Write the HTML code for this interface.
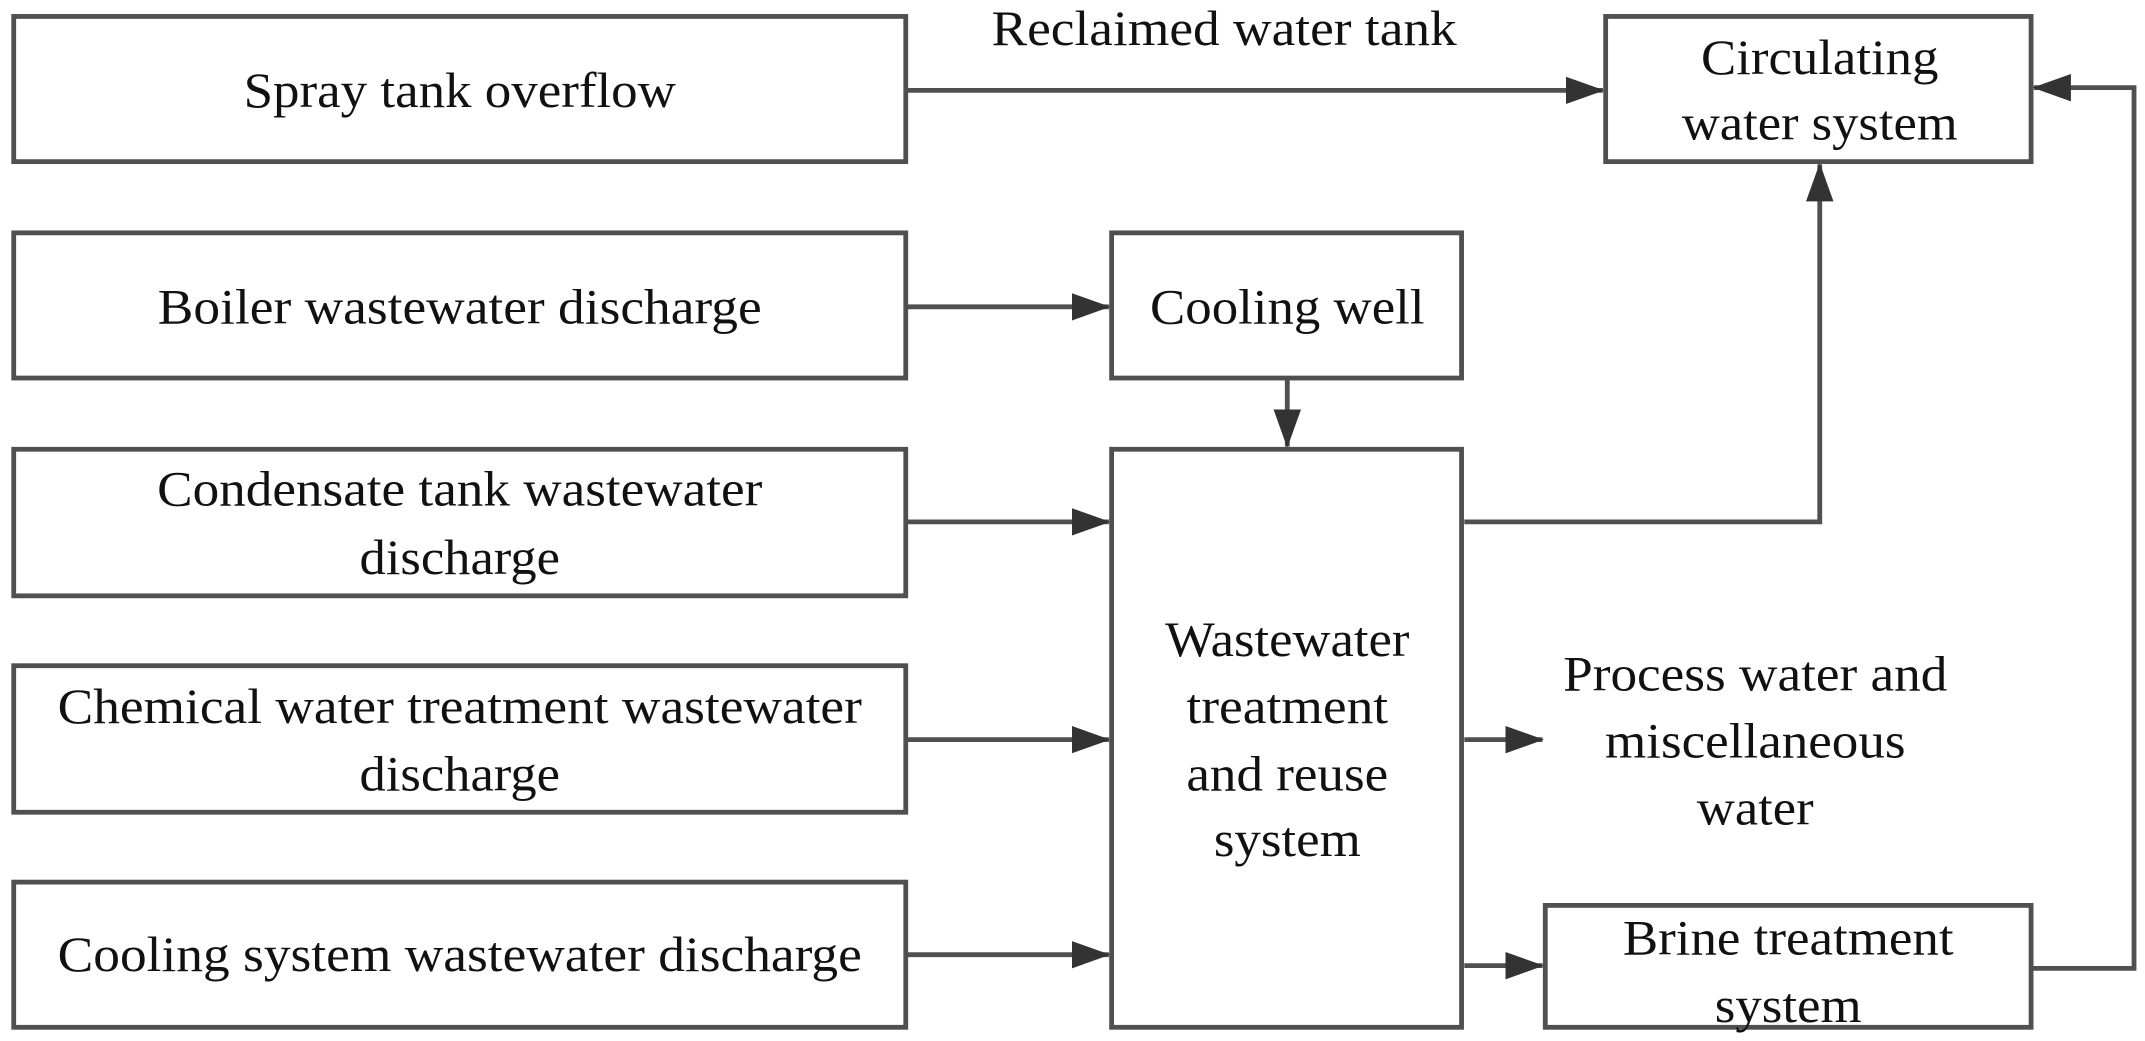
<!DOCTYPE html>
<html><head><meta charset="utf-8"><style>
html,body{margin:0;padding:0;background:#fff;}
svg{display:block;}
text{font-family:"Liberation Serif",serif;font-size:36px;fill:#111;text-anchor:middle;}
</style></head><body>
<svg width="2145" height="1041" viewBox="0 0 1563 760" preserveAspectRatio="none" xmlns="http://www.w3.org/2000/svg">
<defs>
<marker id="b" markerWidth="28" markerHeight="22" refX="27" refY="11" orient="auto" markerUnits="userSpaceOnUse" viewBox="0 0 28 22"><path d="M0,1 L28,11 L0,21 z" fill="#333"/></marker></defs>
<g fill="none" stroke="#505050" stroke-width="3.5">
<rect x="10" y="12" width="650" height="106"/>
<rect x="1170" y="12" width="310" height="106"/>
<rect x="10" y="170" width="650" height="106"/>
<rect x="810" y="170" width="255" height="106"/>
<rect x="10" y="328" width="650" height="107"/>
<rect x="810" y="328" width="255" height="422"/>
<rect x="10" y="486" width="650" height="107"/>
<rect x="10" y="644" width="650" height="106"/>
<rect x="1126" y="661" width="354" height="89"/>
<line x1="660" y1="66" x2="1168" y2="66" marker-end="url(#b)"/>
<line x1="660" y1="224" x2="808" y2="224" marker-end="url(#b)"/>
<line x1="660" y1="381" x2="808" y2="381" marker-end="url(#b)"/>
<line x1="660" y1="540" x2="808" y2="540" marker-end="url(#b)"/>
<line x1="660" y1="697" x2="808" y2="697" marker-end="url(#b)"/>
<line x1="938" y1="276" x2="938" y2="326" marker-end="url(#b)"/>
<polyline points="1067,381 1326,381 1326,120" marker-end="url(#b)"/>
<line x1="1067" y1="540" x2="1124" y2="540" marker-end="url(#b)"/>
<line x1="1067" y1="705" x2="1124" y2="705" marker-end="url(#b)"/>
<polyline points="1480,707 1555,707 1555,64 1482,64" marker-end="url(#b)"/>
</g>
<text x="335" y="78" textLength="315" lengthAdjust="spacingAndGlyphs">Spray tank overflow</text>
<text x="892" y="33" textLength="339" lengthAdjust="spacingAndGlyphs">Reclaimed water tank</text>
<text x="1326" y="54" textLength="173" lengthAdjust="spacingAndGlyphs">Circulating</text>
<text x="1326" y="102" textLength="201" lengthAdjust="spacingAndGlyphs">water system</text>
<text x="335" y="236" textLength="440" lengthAdjust="spacingAndGlyphs">Boiler wastewater discharge</text>
<text x="938" y="236" textLength="200" lengthAdjust="spacingAndGlyphs">Cooling well</text>
<text x="335" y="369" textLength="441" lengthAdjust="spacingAndGlyphs">Condensate tank wastewater</text>
<text x="335" y="419" textLength="146" lengthAdjust="spacingAndGlyphs">discharge</text>
<text x="335" y="528" textLength="586" lengthAdjust="spacingAndGlyphs">Chemical water treatment wastewater</text>
<text x="335" y="577" textLength="146" lengthAdjust="spacingAndGlyphs">discharge</text>
<text x="335" y="709" textLength="586" lengthAdjust="spacingAndGlyphs">Cooling system wastewater discharge</text>
<text x="938" y="479" textLength="178" lengthAdjust="spacingAndGlyphs">Wastewater</text>
<text x="938" y="528" textLength="147" lengthAdjust="spacingAndGlyphs">treatment</text>
<text x="938" y="577" textLength="147" lengthAdjust="spacingAndGlyphs">and reuse</text>
<text x="938" y="625" textLength="107" lengthAdjust="spacingAndGlyphs">system</text>
<text x="1279" y="504" textLength="280" lengthAdjust="spacingAndGlyphs">Process water and</text>
<text x="1279" y="553" textLength="219" lengthAdjust="spacingAndGlyphs">miscellaneous</text>
<text x="1279" y="602" textLength="85" lengthAdjust="spacingAndGlyphs">water</text>
<text x="1303" y="697" textLength="241" lengthAdjust="spacingAndGlyphs">Brine treatment</text>
<text x="1303" y="746" textLength="107" lengthAdjust="spacingAndGlyphs">system</text>
</svg>
</body></html>
